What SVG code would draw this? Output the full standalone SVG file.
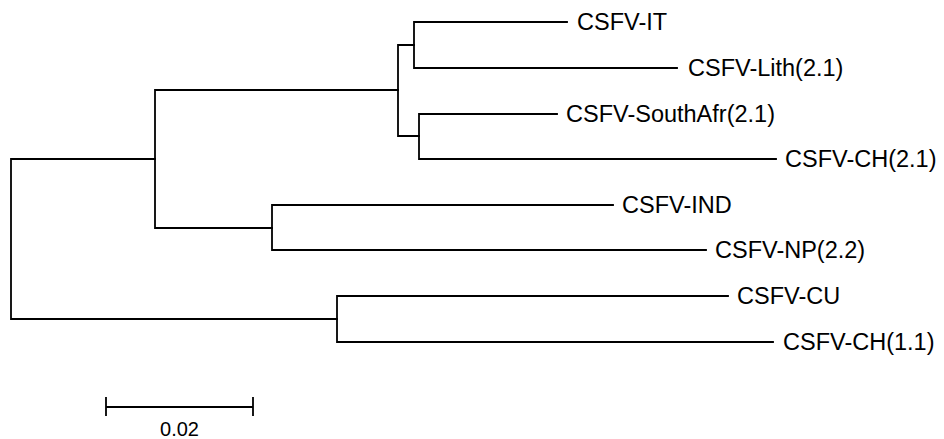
<svg xmlns="http://www.w3.org/2000/svg" width="944" height="439" viewBox="0 0 944 439">
  <style>
    .br { fill: none; stroke: #000; stroke-width: 1.8; stroke-linecap: square; }
    .lbl { font-family: "Liberation Sans", Arial, sans-serif; font-size: 23.5px; fill: #000; }
    .scl { font-family: "Liberation Sans", Arial, sans-serif; font-size: 20px; fill: #000; text-anchor: middle; }
  </style>
  <rect width="944" height="439" fill="#fff"/>

  <!-- tree branches (rectangular cladogram) -->
  <g id="connectors">
    <path class="br" d="M155,159 H11 V319 H337"/>
    <path class="br" d="M398,90 H155 V228 H272"/>
    <path class="br" d="M414,45 H398 V136 H419"/>
    <path class="br" d="M567,22 H414 V68 H677"/>
    <path class="br" d="M557,114 H419 V159 H776"/>
    <path class="br" d="M613,205 H272 V250 H706"/>
    <path class="br" d="M728,296 H337 V342 H773"/>
  </g>

  <!-- leaf labels -->
  <g id="leaf-it"><text class="lbl" x="577" y="30">CSFV-IT</text></g>
  <g id="leaf-lith"><text class="lbl" x="688" y="76">CSFV-Lith(2.1)</text></g>
  <g id="leaf-southafr"><text class="lbl" x="566" y="122">CSFV-SouthAfr(2.1)</text></g>
  <g id="leaf-ch21"><text class="lbl" x="785" y="167">CSFV-CH(2.1)</text></g>
  <g id="leaf-ind"><text class="lbl" x="622" y="213">CSFV-IND</text></g>
  <g id="leaf-np"><text class="lbl" x="715" y="258">CSFV-NP(2.2)</text></g>
  <g id="leaf-cu"><text class="lbl" x="737" y="304">CSFV-CU</text></g>
  <g id="leaf-ch11"><text class="lbl" x="783" y="350">CSFV-CH(1.1)</text></g>

  <!-- scale bar -->
  <g id="scale-bar">
    <path class="br" d="M106,407 H253 M106,398 V415 M253,398 V415" stroke-linecap="butt"/>
    <text class="scl" x="179.5" y="436">0.02</text>
  </g>
</svg>
